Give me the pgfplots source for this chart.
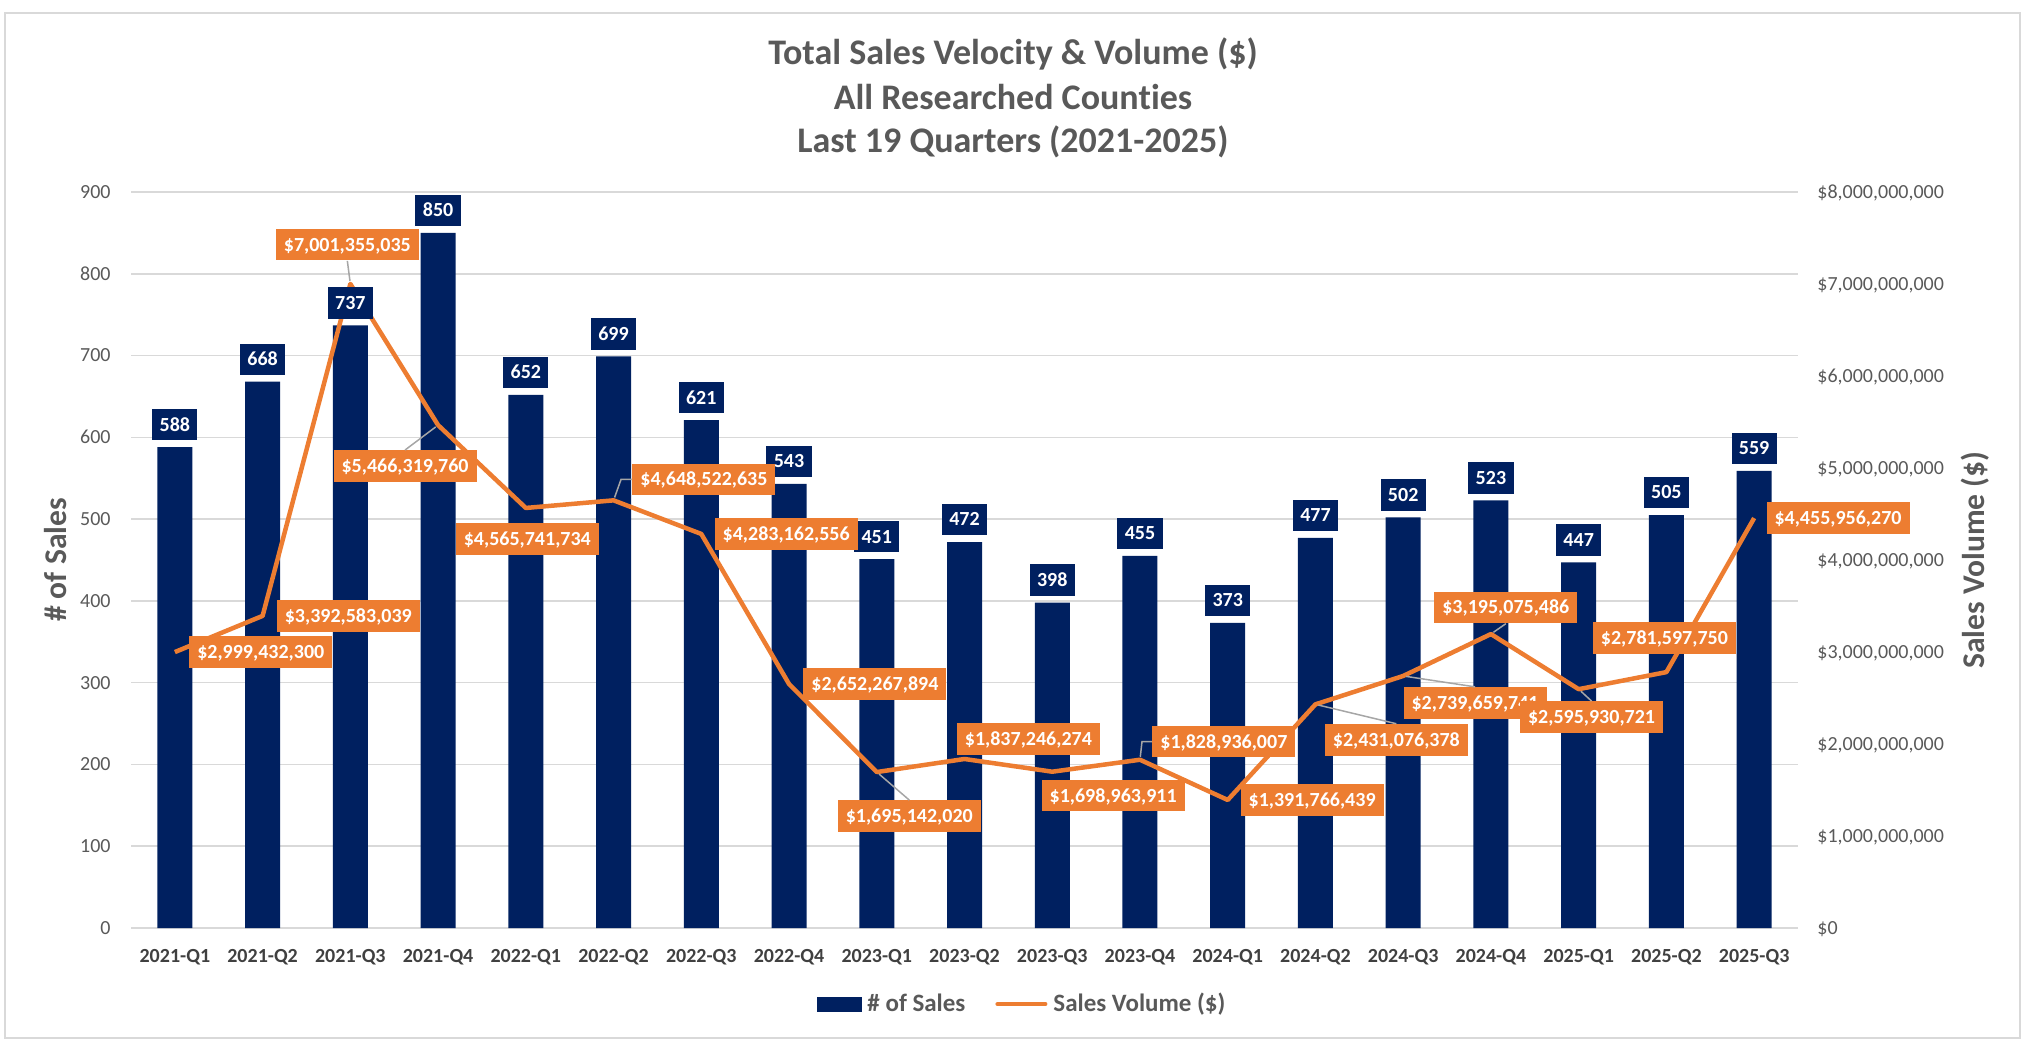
\documentclass[border=0pt]{standalone}
\usepackage{pgfplots}
\pgfplotsset{compat=1.18}
\usepackage{pgfplotstable}
\usepackage{fontspec}
\setmainfont{Carlito}[Ligatures=NoCommon]
\definecolor{navy}{HTML}{002060}
\definecolor{orng}{HTML}{ED7D31}
\definecolor{gridgray}{HTML}{D9D9D9}
\definecolor{txtgray}{HTML}{595959}
\definecolor{dkgray}{HTML}{404040}
\definecolor{leadgray}{HTML}{A6A6A6}

\pgfplotstableread{
x q sales volume
0 2021-Q1 588 2999432300
1 2021-Q2 668 3392583039
2 2021-Q3 737 7001355035
3 2021-Q4 850 5466319760
4 2022-Q1 652 4565741734
5 2022-Q2 699 4648522635
6 2022-Q3 621 4283162556
7 2022-Q4 543 2652267894
8 2023-Q1 451 1695142020
9 2023-Q2 472 1837246274
10 2023-Q3 398 1698963911
11 2023-Q4 455 1828936007
12 2024-Q1 373 1391766439
13 2024-Q2 477 2431076378
14 2024-Q3 502 2739659741
15 2024-Q4 523 3195075486
16 2025-Q1 447 2595930721
17 2025-Q2 505 2781597750
18 2025-Q3 559 4455956270
}\data

\pgfplotsset{
  base/.style={at={(65.5pt,59pt)}, anchor=south west, scale only axis,
    width=833.5pt, height=368pt, xmin=-0.5, xmax=18.5,
    major tick length=0pt, axis line style={draw=none},
    /pgf/number format/assume math mode=true, clip=false},
  leftax/.style={ymin=0, ymax=900},
  rightax/.style={ymin=0, ymax=8000000000, scaled y ticks=false},
}
\tikzset{
  olab/.style={fill=orng, text=white, font=\fontsize{10}{12}\selectfont\bfseries,
    inner xsep=4pt, inner ysep=0pt, minimum height=15.7pt, text height=6.4pt, text depth=0pt},
  lead/.style={draw=leadgray, line width=0.75pt, shorten <=1.5pt},
}

\begin{document}
\begin{tikzpicture}
\useasboundingbox (0,0) rectangle (1014pt,523pt);
\draw[gridgray, line width=0.75pt] (2.5pt,4pt) rectangle (1010pt,516.5pt);

% bars
\begin{axis}[base, leftax,
  xtick={0,...,18}, xticklabels from table={\data}{q},
  ytick={0,100,...,900},
  ymajorgrids, major grid style={gridgray, line width=0.75pt},
  xticklabel style={font=\fontsize{10}{12}\selectfont\bfseries, text=dkgray, anchor=base, yshift=-17pt, inner sep=0pt},
  yticklabel style={font=\fontsize{10}{12}\selectfont, text=txtgray, anchor=base east, xshift=-10pt, yshift=-3.2pt, inner sep=0pt},
]
\addplot[ybar, bar width=17.5pt, fill=navy, draw=none] table[x=x, y=sales]{\data};
\end{axis}

% line
\begin{axis}[base, rightax,
  axis y line*=right, hide x axis, xtick=\empty,
  ytick={0,1000000000,2000000000,3000000000,4000000000,5000000000,6000000000,7000000000,8000000000},
  yticklabels={\$0,{\$1,000,000,000},{\$2,000,000,000},{\$3,000,000,000},{\$4,000,000,000},{\$5,000,000,000},{\$6,000,000,000},{\$7,000,000,000},{\$8,000,000,000}},
  yticklabel style={font=\fontsize{10}{12}\selectfont, text=txtgray, anchor=base west, xshift=9.5pt, yshift=-3.2pt, inner sep=0pt},
  legend style={at={(0.5345,-0.1033)}, anchor=center, draw=none, fill=none,
    legend columns=2, font=\fontsize{12.5}{15}\selectfont\bfseries, text=txtgray,
    /tikz/every odd column/.append style={column sep=2pt},
    /tikz/every even column/.append style={column sep=14pt},
    nodes={inner xsep=1pt, inner ysep=0pt}},
  legend cell align=left,
]
\addlegendimage{legend image code/.code={\fill[navy] (0pt,-3.5pt) rectangle (22pt,3.5pt);}}
\addlegendentry{\# of Sales}
\addplot[orng, line width=2.25pt, line join=round, mark=none,
  legend image code/.code={\draw[orng, line width=2pt, line cap=round] (0pt,0pt) -- (24pt,0pt);}]
  table[x=x, y=volume]{\data};
\addlegendentry{Sales Volume (\$)}
\end{axis}

% bar labels
\begin{axis}[base, leftax, hide axis]
\addplot[ybar, bar width=17.5pt, draw=none, fill=none, point meta=y,
  nodes near coords,
  every node near coord/.append style={anchor=south, yshift=3.2pt, fill=navy, text=white,
    font=\fontsize{10}{12}\selectfont\bfseries, inner xsep=3.7pt, inner ysep=0pt,
    minimum height=15.7pt, text height=6.4pt, text depth=0pt}]
  table[x=x, y=sales]{\data};
\end{axis}

% volume labels
\begin{axis}[base, rightax, hide axis]
\addplot[draw=none, mark=none] table[x=x, y=volume]{\data};
\node[olab, anchor=west, xshift=7pt] (L1) at (axis cs:0,2999432300) {\$2,999,432,300};
\node[olab, anchor=west, xshift=6.9pt] (L2) at (axis cs:1,3392583039) {\$3,392,583,039};
\node[olab, anchor=south, xshift=-1.5pt, yshift=11.5pt] (L3) at (axis cs:2,7001355035) {\$7,001,355,035};
\draw[lead] (axis cs:2,7001355035) -- (L3.south);
\node[olab, xshift=-16.5pt, yshift=-20.5pt] (L4) at (axis cs:3,5466319760) {\$5,466,319,760};
\draw[lead] (axis cs:3,5466319760) -- (L4.north);
\node[olab, anchor=north, xshift=0.75pt, yshift=-7.5pt] (L5) at (axis cs:4,4565741734) {\$4,565,741,734};
\node[olab, anchor=west, xshift=9.25pt, yshift=10.5pt] (L6) at (axis cs:5,4648522635) {\$4,648,522,635};
\draw[lead] (axis cs:5,4648522635) -- ([xshift=-5.5pt]L6.west) -- (L6.west);
\node[olab, anchor=west, xshift=6.5pt] (L7) at (axis cs:6,4283162556) {\$4,283,162,556};
\node[olab, anchor=west, xshift=7pt] (L8) at (axis cs:7,2652267894) {\$2,652,267,894};
\node[olab, anchor=north, xshift=16.25pt, yshift=-14pt] (L9) at (axis cs:8,1695142020) {\$1,695,142,020};
\draw[lead] (axis cs:8,1695142020) -- (L9.north);
\node[olab, anchor=west, xshift=-4pt, yshift=10pt] (L10) at (axis cs:9,1837246274) {\$1,837,246,274};
\node[olab, anchor=west, xshift=-5.5pt, yshift=-12pt] (L11) at (axis cs:10,1698963911) {\$1,698,963,911};
\node[olab, anchor=west, xshift=6pt, yshift=9pt] (L12) at (axis cs:11,1828936007) {\$1,828,936,007};
\draw[lead] (axis cs:11,1828936007) -- ([xshift=-5pt]L12.west) -- (L12.west);
\node[olab, anchor=west, xshift=6.25pt] (L13) at (axis cs:12,1391766439) {\$1,391,766,439};
\node[olab, anchor=west, xshift=4.5pt, yshift=-17.75pt] (L14) at (axis cs:13,2431076378) {\$2,431,076,378};
\draw[lead] (axis cs:13,2431076378) -- (L14.north);
\node[olab, anchor=west, xshift=0pt, yshift=-13.5pt] (L15) at (axis cs:14,2739659741) {\$2,739,659,741};
\draw[lead] (axis cs:14,2739659741) -- (L15.north);
\node[olab, anchor=west, xshift=-28.5pt, yshift=13.25pt] (L16) at (axis cs:15,3195075486) {\$3,195,075,486};
\draw[lead] (axis cs:15,3195075486) -- (L16.south);
\node[olab, anchor=west, xshift=-29.5pt, yshift=-14pt] (L17) at (axis cs:16,2595930721) {\$2,595,930,721};
\draw[lead] (axis cs:16,2595930721) -- (L17.north);
\node[olab, anchor=south, xshift=-1pt, yshift=9pt] (L18) at (axis cs:17,2781597750) {\$2,781,597,750};
\node[olab, anchor=west, xshift=6pt] (L19) at (axis cs:18,4455956270) {\$4,455,956,270};
\end{axis}

% titles
\node[anchor=base, text=txtgray, font=\fontsize{18}{22}\selectfont\bfseries] at (506.5pt,490.5pt) {Total Sales Velocity \& Volume (\$)};
\node[anchor=base, text=txtgray, font=\fontsize{18}{22}\selectfont\bfseries] at (506.5pt,468.25pt) {All Researched Counties};
\node[anchor=base, text=txtgray, font=\fontsize{18}{22}\selectfont\bfseries] at (506.5pt,446.5pt) {Last 19 Quarters (2021-2025)};
\node[rotate=90, text=txtgray, font=\fontsize{15.8}{19}\selectfont\bfseries, inner sep=0pt] at (28pt,243pt) {\# of Sales};
\node[rotate=90, text=txtgray, font=\fontsize{15.8}{19}\selectfont\bfseries, inner sep=0pt] at (987.5pt,243pt) {Sales Volume (\$)};
\end{tikzpicture}
\end{document}
